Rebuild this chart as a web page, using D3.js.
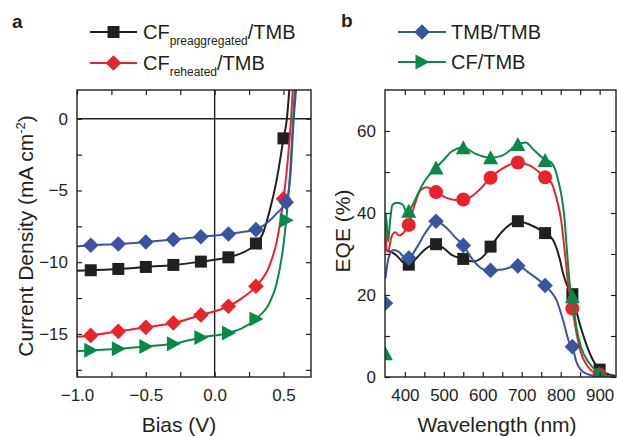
<!DOCTYPE html>
<html>
<head>
<meta charset="utf-8">
<title>J-V and EQE</title>
<script src="https://d3js.org/d3.v7.min.js"></script>
<style>
    body { margin: 0; background: #fff; }
    svg { display: block; font-family: "Liberation Sans", Arial, Helvetica, sans-serif; }
</style>
</head>
<body>
<script>
// ---------- panel a : current density vs bias ----------
const biasMajor = [-1.0, -0.5, 0.0, 0.5];
const biasMinor = [-0.75, -0.25, 0.25];
const jMajor = [-15, -10, -5, 0];
const jMinor = [-17.5, -12.5, -7.5, -2.5];

const jvLineBlack = [[-1.0,-10.6],[-0.9,-10.56],[-0.7,-10.47],[-0.5,-10.33],[-0.3,-10.19],[-0.1,-9.96],[0.1,-9.66],[0.2,-9.35],[0.3,-8.7],[0.35,-8.0],[0.4,-6.4],[0.45,-4.3],[0.5,-1.4],[0.525,0],[0.545,2.4]];
const jvLineRed   = [[-1.0,-15.2],[-0.9,-15.1],[-0.7,-14.82],[-0.5,-14.54],[-0.3,-14.24],[-0.1,-13.68],[0.1,-13.07],[0.2,-12.5],[0.3,-11.68],[0.4,-10.2],[0.45,-8.6],[0.5,-5.6],[0.53,-3.0],[0.555,0],[0.57,2.4]];
const jvLineBlue  = [[-1.0,-8.9],[-0.9,-8.82],[-0.7,-8.73],[-0.5,-8.59],[-0.3,-8.42],[-0.1,-8.23],[0.1,-8.03],[0.2,-7.9],[0.3,-7.73],[0.4,-7.1],[0.45,-6.6],[0.52,-5.82],[0.55,-4.0],[0.575,0],[0.595,2.4]];
const jvLineGreen = [[-1.0,-16.2],[-0.9,-16.14],[-0.7,-16.03],[-0.5,-15.87],[-0.3,-15.68],[-0.1,-15.24],[0.1,-14.93],[0.2,-14.6],[0.3,-13.95],[0.4,-12.8],[0.45,-11.5],[0.5,-8.8],[0.52,-7.07],[0.55,-3.5],[0.57,0],[0.585,2.4]];

const jvMarkBlack = [[-0.9,-10.56],[-0.7,-10.47],[-0.5,-10.33],[-0.3,-10.19],[-0.1,-9.96],[0.1,-9.66],[0.3,-8.70],[0.5,-1.37]];
const jvMarkRed   = [[-0.9,-15.1],[-0.7,-14.82],[-0.5,-14.54],[-0.3,-14.24],[-0.1,-13.68],[0.1,-13.07],[0.3,-11.68],[0.5,-5.58]];
const jvMarkBlue  = [[-0.9,-8.82],[-0.7,-8.73],[-0.5,-8.59],[-0.3,-8.42],[-0.1,-8.23],[0.1,-8.03],[0.3,-7.73],[0.52,-5.82]];
const jvMarkGreen = [[-0.9,-16.14],[-0.7,-16.03],[-0.5,-15.87],[-0.3,-15.68],[-0.1,-15.24],[0.1,-14.93],[0.3,-13.95],[0.52,-7.07]];

// ---------- panel b : EQE vs wavelength ----------
const wlMajor = [400, 500, 600, 700, 800, 900];
const wlMinor = [450, 550, 650, 750, 850];
const eqeMajor = [0, 20, 40, 60];
const eqeMinor = [10, 30, 50];

const eqeLineBlack = [[350,31],[365,30.5],[380,29.5],[395,28],[410,27.4],[430,29],[450,31],[480,32.4],[500,31.4],[520,29.8],[550,28.8],[575,28.2],[600,29.3],[620,31.8],[650,35.5],[690,38],[720,37.2],[760,35.1],[780,33.5],[797,29],[806,25.3],[818,22],[831,19.6],[844,14.7],[862,9],[883,4.1],[909,1.2],[940,0.3]];
const eqeLineRed   = [[350,38],[353,31],[357,30.5],[365,34],[375,35.3],[385,34.5],[395,35],[410,37.1],[425,42],[440,45.5],[455,46.3],[480,45.1],[507,43.7],[530,43.2],[550,43.3],[570,44],[592,45.7],[620,48.6],[650,50.8],[690,52.3],[720,51.6],[760,48.7],[776,47.4],[790,43.3],[801,38.4],[810,31],[820,22],[830,16.7],[840,11],[850,6.5],[870,2.5],[890,0.8],[910,0.2],[940,0]];
const eqeLineBlue  = [[350,24],[358,29],[370,31],[385,30.5],[395,29.5],[410,29],[430,31.5],[455,35.5],[480,38],[505,36.5],[530,34],[550,32.1],[575,28.5],[600,26.3],[620,26],[650,26.2],[690,27.1],[720,25.3],[760,22.3],[775,20.8],[789,18.8],[806,13.9],[823,8.2],[830,7.4],[840,3.8],[857,1.3],[880,0.4],[900,0.1],[940,0]];
const eqeLineGreen = [[350,40],[353,38],[357,33],[362,38],[368,42],[380,42.5],[395,42],[405,40],[410,40.5],[420,42],[430,44],[451,47.8],[464,49.4],[480,51],[500,53],[520,55],[550,56],[580,54.5],[620,53.5],[650,54],[690,56.7],[710,57.2],[730,55.5],[760,53],[776,52.3],[793,48.2],[810,38.4],[816,31],[823,22.9],[830,19.6],[840,12.3],[852,7.4],[874,3.3],[896,1.2],[920,0.3],[940,0]];

const eqeMarkBlack = [[410,27.4],[480,32.4],[550,28.8],[620,31.8],[690,38.0],[760,35.1],[830,20.2],[900,1.8]];
const eqeMarkRed   = [[410,37.1],[480,45.1],[550,43.3],[620,48.6],[690,52.3],[760,48.7],[830,16.7],[900,0.6]];
const eqeMarkBlue  = [[350,18.0],[410,29.0],[480,38.0],[550,32.1],[620,26.0],[690,27.1],[760,22.3],[830,7.4],[900,0.2]];
const eqeMarkGreen = [[350,5.7],[410,40.4],[480,51.0],[550,55.9],[620,53.5],[690,56.7],[760,52.8],[830,19.6],[900,0.8]];

const ink = "#231f20";
const cBlack = "#231f20", cRed = "#e8242a", cBlue = "#3a54a4", cGreen = "#078a45";

const svg = d3.select("body").append("svg").attr("width", 617).attr("height", 436);

// marker shapes, centred on 0,0
function shape(type) {
    if (type == "square") return "M-6,-6H6V6H-6Z";
    if (type == "diamond") return "M0,-7.8L7.8,0L0,7.8L-7.8,0Z";
    if (type == "circle") return "M7,0A7,7 0 1,1 -7,0A7,7 0 1,1 7,0Z";
    if (type == "triRight") return "M-6.5,-7.5L7.5,0L-6.5,7.5Z";
    if (type == "triUp") return "M0,-7.5L7.5,6.5L-7.5,6.5Z";
}

function frameAxes(g, x, y, xMajor, xMinor, yMajor, yMinor, xFmt, yFmt) {
    const T = 5;
    const x0 = x.range()[0], x1 = x.range()[1], y0 = y.range()[0], y1 = y.range()[1];
    const xs = [xMajor, xMinor], ys = [yMajor, yMinor];
    xs.forEach(function(vals, i) {
        g.append("g").attr("transform", "translate(0," + y0 + ")")
            .call(d3.axisBottom(x).tickValues(vals).tickSizeInner(-T).tickSizeOuter(0).tickPadding(12)
                .tickFormat(i == 0 ? xFmt : () => ""));
        g.append("g").attr("transform", "translate(0," + y1 + ")")
            .call(d3.axisTop(x).tickValues(vals).tickSizeInner(-T).tickSizeOuter(0).tickFormat(() => ""));
    });
    ys.forEach(function(vals, i) {
        g.append("g").attr("transform", "translate(" + x0 + ",0)")
            .call(d3.axisLeft(y).tickValues(vals).tickSizeInner(-T).tickSizeOuter(0).tickPadding(9)
                .tickFormat(i == 0 ? yFmt : () => ""));
        g.append("g").attr("transform", "translate(" + x1 + ",0)")
            .call(d3.axisRight(y).tickValues(vals).tickSizeInner(-T).tickSizeOuter(0).tickFormat(() => ""));
    });
    g.selectAll(".domain").remove();
    g.selectAll(".tick line").attr("stroke", ink).attr("stroke-width", 1.2);
    g.selectAll(".tick text").attr("fill", ink).attr("font-size", 17)
        .attr("font-family", "'Liberation Sans', Arial, sans-serif");
    g.append("rect").attr("x", x0).attr("y", y1).attr("width", x1 - x0).attr("height", y0 - y1)
        .attr("fill", "none").attr("stroke", ink).attr("stroke-width", 1.4);
}

function series(g, x, y, clipId, linePts, markPts, color, type) {
    const line = d3.line().x(d => x(d[0])).y(d => y(d[1])).curve(d3.curveMonotoneX);
    const c = g.append("g").attr("clip-path", "url(#" + clipId + ")");
    c.append("path").datum(linePts).attr("d", line)
        .attr("fill", "none").attr("stroke", color).attr("stroke-width", 2);
    c.selectAll("path.mk").data(markPts).join("path").attr("class", "mk")
        .attr("transform", d => "translate(" + x(d[0]) + "," + y(d[1]) + ")")
        .attr("d", shape(type)).attr("fill", color);
}

function clip(id, x, y) {
    svg.append("clipPath").attr("id", id).append("rect")
        .attr("x", x.range()[0]).attr("y", y.range()[1])
        .attr("width", x.range()[1] - x.range()[0]).attr("height", y.range()[0] - y.range()[1]);
}

function legendRow(x1, x2, yy, color, type) {
    svg.append("line").attr("x1", x1).attr("x2", x2).attr("y1", yy).attr("y2", yy)
        .attr("stroke", color).attr("stroke-width", 2);
    svg.append("path").attr("transform", "translate(" + ((x1 + x2) / 2) + "," + yy + ")")
        .attr("d", shape(type)).attr("fill", color);
}

const minus = d => String(d).replace("-", "\u2212");

// ---- panel a
const xa = d3.scaleLinear().domain([-1.0, 0.7]).range([77, 311]);
const ya = d3.scaleLinear().domain([-18, 2]).range([377, 90]);
clip("clipA", xa, ya);
const ga = svg.append("g");
ga.append("line").attr("x1", xa(-1)).attr("x2", xa(0.7)).attr("y1", ya(0)).attr("y2", ya(0))
    .attr("stroke", ink).attr("stroke-width", 1.4);
ga.append("line").attr("x1", xa(0)).attr("x2", xa(0)).attr("y1", ya(2)).attr("y2", ya(-18))
    .attr("stroke", ink).attr("stroke-width", 1.4);
series(ga, xa, ya, "clipA", jvLineBlack, jvMarkBlack, cBlack, "square");
series(ga, xa, ya, "clipA", jvLineRed, jvMarkRed, cRed, "diamond");
series(ga, xa, ya, "clipA", jvLineGreen, jvMarkGreen, cGreen, "triRight");
series(ga, xa, ya, "clipA", jvLineBlue, jvMarkBlue, cBlue, "diamond");
frameAxes(ga, xa, ya, biasMajor, biasMinor, jMajor, jMinor, d => minus(d.toFixed(1)), d => minus(d));

// ---- panel b
const xb = d3.scaleLinear().domain([349, 942]).range([385, 616]);
const yb = d3.scaleLinear().domain([0, 70]).range([377, 90]);
clip("clipB", xb, yb);
const gb = svg.append("g");
series(gb, xb, yb, "clipB", eqeLineBlack, eqeMarkBlack, cBlack, "square");
series(gb, xb, yb, "clipB", eqeLineRed, eqeMarkRed, cRed, "circle");
series(gb, xb, yb, "clipB", eqeLineBlue, eqeMarkBlue, cBlue, "diamond");
series(gb, xb, yb, "clipB", eqeLineGreen, eqeMarkGreen, cGreen, "triUp");
frameAxes(gb, xb, yb, wlMajor, wlMinor, eqeMajor, eqeMinor, d => String(d), d => String(d));

// ---- titles and labels
svg.append("text").attr("x", 12).attr("y", 28).attr("font-size", 19).attr("font-weight", "bold")
    .attr("fill", ink).text("a");
svg.append("text").attr("x", 341).attr("y", 27).attr("font-size", 19).attr("font-weight", "bold")
    .attr("fill", ink).text("b");

svg.append("text").attr("x", 179).attr("y", 432).attr("text-anchor", "middle")
    .attr("font-size", 21).attr("fill", ink).text("Bias (V)");
svg.append("text").attr("x", 497).attr("y", 432).attr("text-anchor", "middle")
    .attr("font-size", 21).attr("fill", ink).text("Wavelength (nm)");

const ta = svg.append("text").attr("transform", "translate(33,236) rotate(-90)")
    .attr("text-anchor", "middle").attr("font-size", 21).attr("fill", ink);
ta.append("tspan").text("Current Density (mA cm");
ta.append("tspan").attr("font-size", 13).attr("dy", -8).text("-2");
ta.append("tspan").attr("dy", 8).text(")");

svg.append("text").attr("transform", "translate(350,231) rotate(-90)")
    .attr("text-anchor", "middle").attr("font-size", 21).attr("fill", ink).text("EQE (%)");

// legends
legendRow(90, 137, 32, cBlack, "square");
const l1 = svg.append("text").attr("x", 143).attr("y", 39).attr("font-size", 20).attr("fill", ink);
l1.append("tspan").text("CF");
l1.append("tspan").attr("font-size", 12).attr("dy", 6).text("preaggregated");
l1.append("tspan").attr("dy", -6).text("/TMB");

legendRow(90, 137, 63, cRed, "diamond");
const l2 = svg.append("text").attr("x", 143).attr("y", 70).attr("font-size", 20).attr("fill", ink);
l2.append("tspan").text("CF");
l2.append("tspan").attr("font-size", 12).attr("dy", 6).text("reheated");
l2.append("tspan").attr("dy", -6).text("/TMB");

legendRow(398, 446, 32, cBlue, "diamond");
svg.append("text").attr("x", 451).attr("y", 39).attr("font-size", 20).attr("fill", ink).text("TMB/TMB");
legendRow(398, 446, 62, cGreen, "triRight");
svg.append("text").attr("x", 451).attr("y", 69).attr("font-size", 20).attr("fill", ink).text("CF/TMB");
</script>
</body>
</html>
